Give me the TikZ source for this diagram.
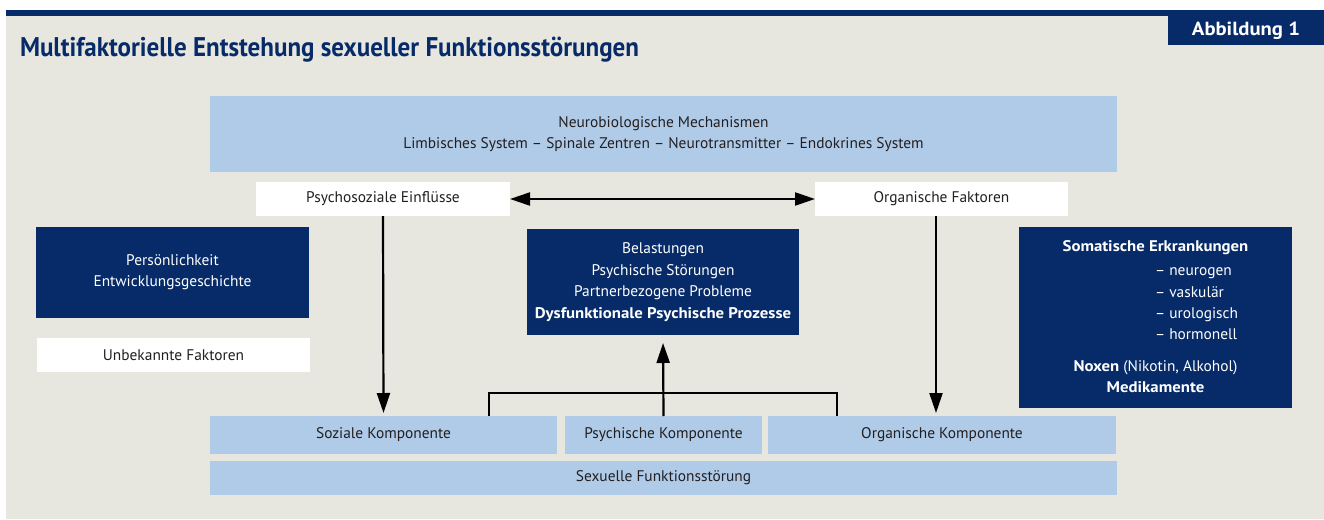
\documentclass[tikz,border=0pt]{standalone}
\usepackage{fontspec}
\setmainfont{PT Sans}[BoldFeatures={FakeStretch=1.09}]
\newfontfamily\titlefont[FakeStretch=0.927]{PT Sans}
\usetikzlibrary{arrows.meta,calc}
\definecolor{navy}{HTML}{062B68}
\definecolor{paleblue}{HTML}{AFCBE8}
\definecolor{paper}{HTML}{E7E6DF}
\definecolor{ink}{HTML}{231F20}
\begin{document}
\begin{tikzpicture}[x=1pt,y=-1pt,
  every node/.style={inner sep=0pt, outer sep=0pt, align=center, font=\fontsize{15.4}{21}\selectfont},
  lightbox/.style={fill=paleblue, text=ink},
  whitebox/.style={fill=white, text=ink},
  darkbox/.style={fill=navy, text=white},
  link/.style={line width=2.2pt, draw=black},
  arr/.style={link, -{Triangle[length=20pt,width=13pt]}},
  darr/.style={link, {Triangle[length=20pt,width=13pt]}-{Triangle[length=20pt,width=13pt]}}]
  % page and frame
  \useasboundingbox (0,0) rectangle (1324,519);
  \fill[white] (0,0) rectangle (1324,519);
  \fill[paper] (6,16) rectangle (1324,519);
  \fill[navy] (6,10) rectangle (1324,16);
  \node[darkbox, minimum width=156pt, minimum height=29pt, font=\fontsize{19}{20}\selectfont\bfseries] (fig) at (1246,30.5) {Abbildung 1};
  \node[anchor=west, text=navy, font=\titlefont\fontsize{27}{30}\selectfont\bfseries] (title) at (20,50) {Multifaktorielle Entstehung sexueller Funktionsstörungen};

  % boxes
  \node[lightbox, minimum width=907pt, minimum height=76pt] (neuro) at (663.5,134)
    {Neurobiologische Mechanismen\\Limbisches System -- Spinale Zentren -- Neurotransmitter -- Endokrines System};
  \node[whitebox, minimum width=254pt, minimum height=34pt] (psoz) at (383,199) {Psychosoziale Einflüsse};
  \node[whitebox, minimum width=253pt, minimum height=34pt] (ofak) at (941.5,199) {Organische Faktoren};
  \node[darkbox, minimum width=273pt, minimum height=91pt] (pers) at (172.5,272.5) {Persönlichkeit\\Entwicklungsgeschichte};
  \node[whitebox, minimum width=273pt, minimum height=34pt] (unb) at (173.5,355) {Unbekannte Faktoren};
  \node[darkbox, minimum width=272pt, minimum height=106pt, font=\fontsize{15.4}{21.5}\selectfont] (psyp) at (663,282)
    {Belastungen\\Psychische Störungen\\Partnerbezogene Probleme\\\textbf{Dysfunktionale Psychische Prozesse}};
  \node[darkbox, minimum width=273pt, minimum height=181pt] (som) at (1155.5,317.5) {};
  \node[text=white, font=\fontsize{15.4}{21.3}\selectfont\bfseries] (somhead) at (1155.5,248) {Somatische Erkrankungen};
  \node[text=white, font=\fontsize{15.4}{21.3}\selectfont, align=left, anchor=west] (somlist) at (1155,304)
    {-- neurogen\\-- vaskulär\\-- urologisch\\-- hormonell};
  \node[text=white, font=\fontsize{15.4}{21}\selectfont] (nox) at (1155.5,376.5)
    {\textbf{Noxen} (Nikotin, Alkohol)\\\textbf{Medikamente}};
  \node[lightbox, minimum width=347pt, minimum height=38pt] (soz) at (383.5,435) {Soziale Komponente};
  \node[lightbox, minimum width=197pt, minimum height=38pt] (psy) at (663.5,435) {Psychische Komponente};
  \node[lightbox, minimum width=348pt, minimum height=38pt] (org) at (942,435) {Organische Komponente};
  \node[lightbox, minimum width=907pt, minimum height=34pt] (sfs) at (663.5,478) {Sexuelle Funktionsstörung};

  % connectors
  \draw[darr] (psoz.east) -- (ofak.west);
  \draw[arr, shorten >=3pt] (psoz.south) -- (soz.north);
  \coordinate (ofakfoot) at ($(ofak.south)+(-5.5,0)$);
  \draw[arr, shorten >=3pt] (ofakfoot) -- (ofakfoot |- org.north);
  \coordinate (bracketL) at ($(soz.north)+(105.5,0)$);
  \coordinate (bracketR) at ($(org.north)+(-105,0)$);
  \draw[link, line cap=butt] (bracketL) -- ++(0,-23) -| (bracketR);
  \draw[arr, shorten >=8pt] (psy.north) -- (psyp.south);
\end{tikzpicture}
\end{document}
